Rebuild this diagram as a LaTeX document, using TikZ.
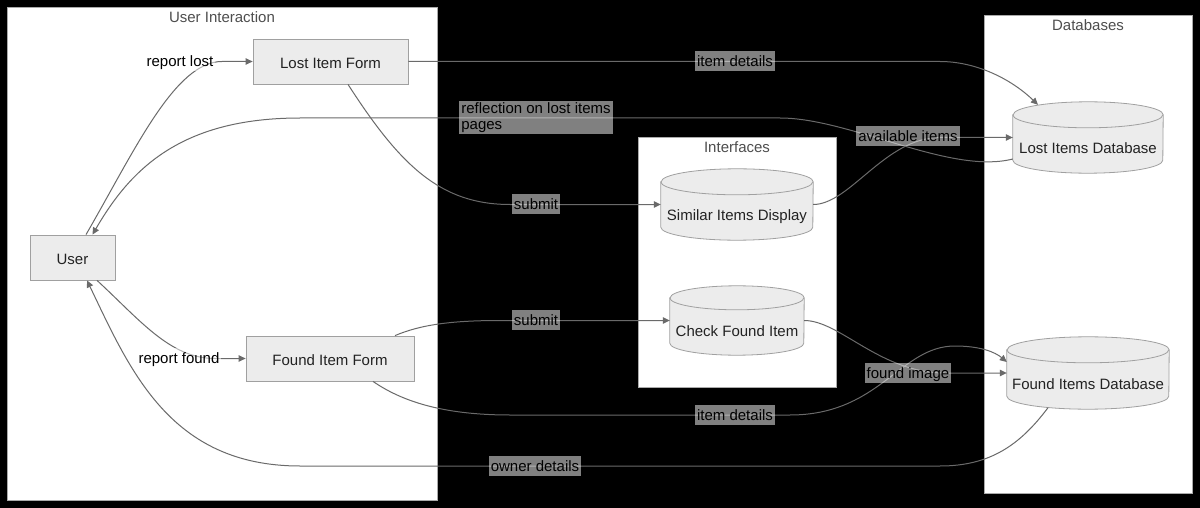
\documentclass[tikz,border=0pt]{standalone}
\usepackage{fontspec}
\setmainfont{Liberation Sans}
\usetikzlibrary{arrows.meta,calc}
\definecolor{edgec}{HTML}{6A6A6A}
\definecolor{nodef}{HTML}{ECECEC}
\definecolor{nodeb}{HTML}{A0A0A0}
\definecolor{clusterb}{HTML}{AAAAAA}
\definecolor{txt}{HTML}{222222}
\newcommand\mycyl[7]{%
  \node[inner sep=0pt, minimum width=#4pt, minimum height=#5pt] (#1) at (#2,#3) {};
  \filldraw[fill=nodef, draw=nodeb, line width=0.8pt]
    ($(#1.north west)+(0,#6)$) -- ($(#1.south west)+(0,-#6)$)
    arc[start angle=180, end angle=0, x radius=#4/2, y radius=#6]
    -- ($(#1.north east)+(0,#6)$)
    arc[start angle=0, end angle=-180, x radius=#4/2, y radius=#6] -- cycle;
  \draw[draw=nodeb, line width=0.8pt] ($(#1.north west)+(0,#6)$)
    arc[start angle=180, end angle=0, x radius=#4/2, y radius=#6];
  \node[ntext] (#1t) at ($(#1.center)+(0,9)$) {#7};
}
\begin{document}
\begin{tikzpicture}[x=1pt,y=-1pt,
  ntext/.style={text=txt, font=\fontsize{15}{17}\selectfont, inner sep=0pt, text height=14pt, text depth=0pt},
  ctitle/.style={text=txt!80, font=\fontsize{15}{17}\selectfont, inner sep=0pt},
  cluster/.style={draw=clusterb, fill=white, line width=0.8pt, inner sep=0pt},
  box/.style={draw=nodeb, fill=nodef, line width=0.8pt, inner sep=0pt, text=txt, text height=14pt, text depth=0pt, font=\fontsize{15}{17}\selectfont},
  edge/.style={draw=edgec, line width=1pt, -{Triangle[length=7pt,width=6.5pt]}},
  lbl/.style={fill=white, fill opacity=0.5, text opacity=1, text=black, inner xsep=2pt, inner ysep=2.5pt, text height=13pt, text depth=2pt, font=\fontsize{15}{16}\selectfont},
  lblm/.style={fill=white, fill opacity=0.5, text opacity=1, text=black, inner xsep=2pt, inner ysep=2pt, align=left, font=\fontsize{15}{16}\selectfont}
]
\fill[black] (0,0) rectangle (1200,508);
\useasboundingbox (0,0) rectangle (1200,508);

% clusters
\node[cluster, minimum width=430pt, minimum height=493pt] (ui) at (222,253.5) {};
\node[ctitle] (uit) at (222,17) {User Interaction};
\node[cluster, minimum width=198pt, minimum height=250pt] (intf) at (737,262) {};
\node[ctitle] (intft) at (737,147) {Interfaces};
\node[cluster, minimum width=208pt, minimum height=478pt] (dbs) at (1088,254) {};
\node[ctitle] (dbst) at (1088,25) {Databases};

% nodes
\node[box, minimum width=85pt, minimum height=45pt] (user) at (72.5,257.5) {User};
\node[box, minimum width=155pt, minimum height=45pt] (lif) at (330.5,61.5) {Lost Item Form};
\node[box, minimum width=168pt, minimum height=45pt] (fif) at (330,358.5) {Found Item Form};
\mycyl{sid}{737}{204.5}{152}{71}{13}{Similar Items Display}
\mycyl{cfi}{737}{320.5}{134}{69}{12}{Check Found Item}
\mycyl{lid}{1088}{137.5}{150}{71}{13}{Lost Items Database}
\mycyl{fid}{1088}{373}{162}{72}{13}{Found Items Database}

% edges
\draw[edge] ([xshift=13.5pt]user.north) .. controls (135,150) and (175,61.5) .. (222,61.5) -- (lif.west);
\draw[edge] (lif.east) -- (940,61.5) .. controls (975,61.5) and (1010,78) .. ($(lid.north)+(-50,3)$);
\draw[edge] ($(lid.west)+(0,21.5)$) .. controls (950,175) and (850,118) .. (780,118) -- (300,118) .. controls (180,118) and (130,170) .. ([xshift=20pt]user.north);
\draw[edge] ([xshift=17.5pt]lif.south) .. controls (400,165) and (440,204.5) .. (510,204.5) -- (sid.west);
\draw[edge] (sid.east) .. controls (850,204.5) and (885,137.5) .. (940,137.5) -- (lid.west);
\draw[edge] ([xshift=24.5pt]user.south) .. controls (140,320) and (170,358.5) .. (215,358.5) -- (fif.west);
\draw[edge] ([xshift=65pt]fif.north) .. controls (420,325) and (450,320.5) .. (500,320.5) -- (cfi.west);
\draw[edge] ([xshift=43pt]fif.south) .. controls (400,400) and (440,415) .. (510,415) -- (790,415) .. controls (880,415) and (900,346) .. (955,346) .. controls (980,346) and (995,352) .. ($(fid.west)+(0,-11)$);
\draw[edge] (cfi.east) .. controls (840,320.5) and (880,373) .. (945,373) -- (fid.west);
\draw[edge] ($(fid.south)+(-40,-1.5)$) .. controls (1020,445) and (990,466) .. (940,466) -- (300,466) .. controls (170,466) and (130,370) .. ([xshift=14.5pt]user.south);

% labels
\node[lbl] (l1) at (180,61) {report lost};
\node[lbl] (l2) at (735,61) {item details};
\node[lblm] (l3) at (536,117.5) {reflection on lost items\\pages};
\node[lbl] (l4) at (536,204) {submit};
\node[lbl] (l5) at (908,136.5) {available items};
\node[lbl] (l6) at (179,358) {report found};
\node[lbl] (l7) at (536,320) {submit};
\node[lbl] (l8) at (735,415) {item details};
\node[lbl] (l9) at (908,373) {found image};
\node[lbl] (l10) at (535,466) {owner details};
\end{tikzpicture}
\end{document}
